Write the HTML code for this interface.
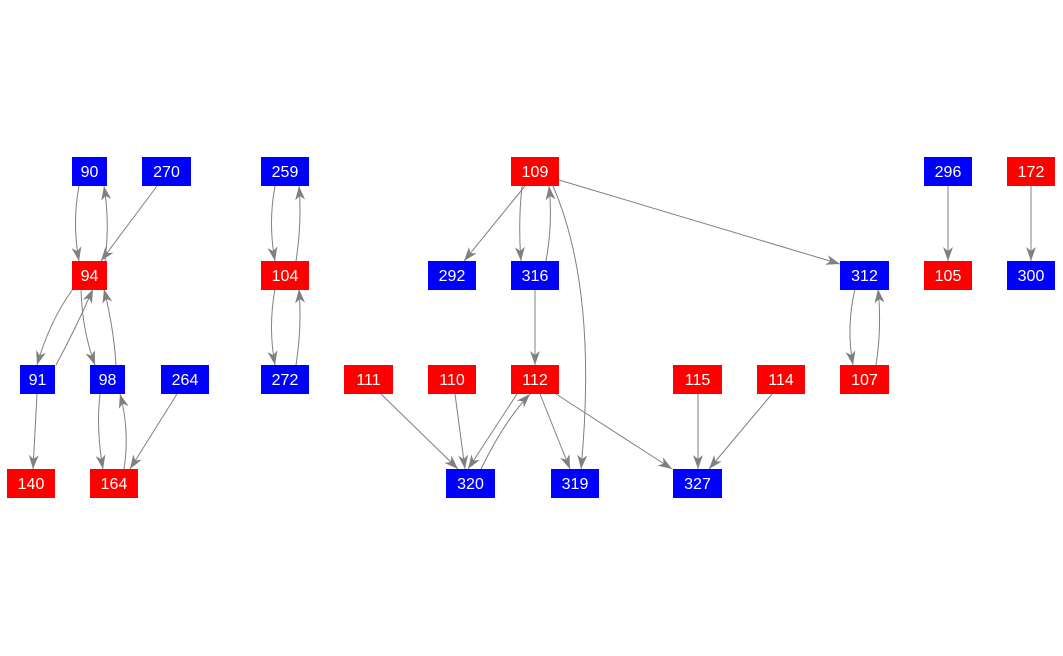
<!DOCTYPE html>
<html><head><meta charset="utf-8"><style>
html,body{margin:0;padding:0;background:#fff;}
#c{position:relative;width:1063px;height:656px;overflow:hidden;}
.n{position:absolute;height:29px;line-height:31px;text-align:center;color:#fff;font-family:"Liberation Sans",Arial,sans-serif;font-size:16px;}
.r{background:#ff0000}.b{background:#0000ff}
svg{position:absolute;left:0;top:0}
</style></head><body><div id="c">
<svg width="1063" height="656" viewBox="0 0 1063 656">
<defs><marker id="a" markerWidth="15" markerHeight="11" refX="14" refY="5" orient="auto" markerUnits="userSpaceOnUse"><path d="M0,0 L14,5 L0,10 L4,5 z" fill="#808080"/></marker></defs>
<g fill="none" stroke="#808080" stroke-width="1" marker-end="url(#a)">
<path d="M79,186 Q72,223 79,261"/>
<path d="M105,261 Q110,223 104,186"/>
<path d="M157,186 L101,261"/>
<path d="M73,289 Q50,320 37,365"/>
<path d="M56,365 Q75,330 93,289"/>
<path d="M81,289 Q82,330 95,365"/>
<path d="M116,365 Q114,330 104,289"/>
<path d="M37,394 L33,469"/>
<path d="M100,394 Q96,430 103,469"/>
<path d="M124,469 Q130,430 120,394"/>
<path d="M177,394 L130,469"/>
<path d="M275,186 Q268,223 275,261"/>
<path d="M296,261 Q302,223 299,186"/>
<path d="M275,289 Q268,327 275,365"/>
<path d="M296,365 Q302,327 299,289"/>
<path d="M525,186 L464,261"/>
<path d="M522,186 Q518,223 521,261"/>
<path d="M546,261 Q553,223 549,186"/>
<path d="M553,186 Q598,290 581,469"/>
<path d="M559,180 L840,264"/>
<path d="M535,289 L535,365"/>
<path d="M381,394 L458,469"/>
<path d="M455,394 L465,469"/>
<path d="M517,394 L468,469"/>
<path d="M481,469 Q505,420 530,394"/>
<path d="M540,394 L570,469"/>
<path d="M556,394 L672,469"/>
<path d="M698,394 L698,469"/>
<path d="M772,394 L709,469"/>
<path d="M855,289 Q846,327 853,365"/>
<path d="M876,365 Q882,327 878,289"/>
<path d="M948,186 L948,261"/>
<path d="M1031,186 L1031,261"/>
</g>
</svg>
<div class="n b" style="left:72px;top:157px;width:35px">90</div>
<div class="n b" style="left:142px;top:157px;width:49px">270</div>
<div class="n b" style="left:261px;top:157px;width:48px">259</div>
<div class="n r" style="left:511px;top:157px;width:48px">109</div>
<div class="n b" style="left:924px;top:157px;width:48px">296</div>
<div class="n r" style="left:1007px;top:157px;width:48px">172</div>
<div class="n r" style="left:72px;top:261px;width:35px">94</div>
<div class="n r" style="left:261px;top:261px;width:48px">104</div>
<div class="n b" style="left:428px;top:261px;width:48px">292</div>
<div class="n b" style="left:511px;top:261px;width:48px">316</div>
<div class="n b" style="left:840px;top:261px;width:49px">312</div>
<div class="n r" style="left:924px;top:261px;width:48px">105</div>
<div class="n b" style="left:1007px;top:261px;width:48px">300</div>
<div class="n b" style="left:20px;top:365px;width:35px">91</div>
<div class="n b" style="left:90px;top:365px;width:35px">98</div>
<div class="n b" style="left:161px;top:365px;width:48px">264</div>
<div class="n b" style="left:261px;top:365px;width:48px">272</div>
<div class="n r" style="left:344px;top:365px;width:49px">111</div>
<div class="n r" style="left:428px;top:365px;width:48px">110</div>
<div class="n r" style="left:511px;top:365px;width:48px">112</div>
<div class="n r" style="left:673px;top:365px;width:49px">115</div>
<div class="n r" style="left:757px;top:365px;width:48px">114</div>
<div class="n r" style="left:840px;top:365px;width:49px">107</div>
<div class="n r" style="left:7px;top:469px;width:48px">140</div>
<div class="n r" style="left:90px;top:469px;width:48px">164</div>
<div class="n b" style="left:446px;top:469px;width:49px">320</div>
<div class="n b" style="left:551px;top:469px;width:48px">319</div>
<div class="n b" style="left:673px;top:469px;width:49px">327</div>
</div></body></html>
